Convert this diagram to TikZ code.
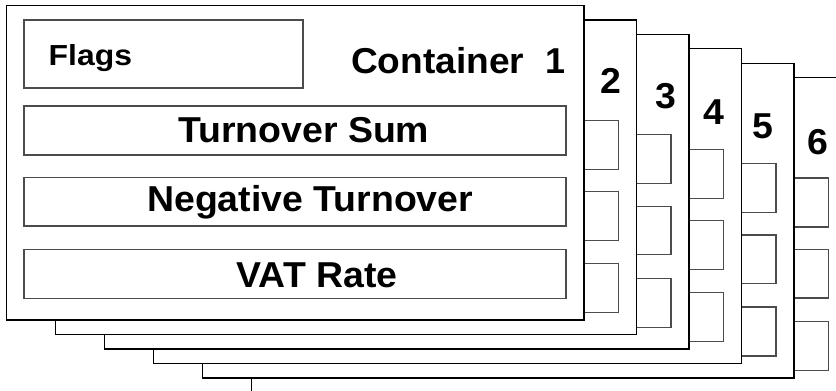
\documentclass[tikz,border=0pt]{standalone}
\usepackage{graphicx}
\usepackage{fontspec}
\setmainfont{Liberation Sans}
\newcommand{\widetext}[2]{\scalebox{#1}[1]{#2}}
\begin{document}
\begin{tikzpicture}[x=1pt,y=-1pt,
  cardline/.style={draw=black,line width=1.2pt,fill=white},
  fieldbox/.style={draw=black!70,line width=1.2pt,fill=white},
  bigtext/.style={inner sep=0pt,font=\fontsize{36}{40}\selectfont\bfseries},
  smalltext/.style={inner sep=0pt,font=\fontsize{29}{33}\selectfont\bfseries}]
\useasboundingbox (0,0) rectangle (836,391);
\clip (0,0) rectangle (836,391);
% stacked containers, back to front
\foreach \k in {6,5,4,3,2,1}{
  \pgfmathsetmacro{\L}{6.5+49*(\k-1)}
  \pgfmathsetmacro{\R}{584+52.5*(\k-1)}
  \pgfmathsetmacro{\T}{5.5+14.4*(\k-1)}
  \pgfmathsetmacro{\B}{320+14.5*(\k-1)}
  \pgfmathsetmacro{\dx}{52.5*(\k-1)}
  \pgfmathsetmacro{\dy}{14.4*(\k-1)}
  \path[cardline] (\L,\T) rectangle (\R,\B);
  \begin{scope}[shift={(\dx,\dy)}]
    \path[fieldbox] (24,20) rectangle (303,88);
    \path[fieldbox] (24,106) rectangle (566,155);
    \path[fieldbox] (24,177.3) rectangle (566,226);
    \path[fieldbox] (24,249.3) rectangle (566,298.3);
  \end{scope}
}
% labels of the front container
\node[smalltext,anchor=base west] (flags) at (48.5,65) {\widetext{1.1}{Flags}};
\node[bigtext,anchor=base west] (cont) at (351,73.3) {\widetext{1.03}{Container}\hspace{21pt}1};
\node[bigtext,anchor=base west] (sum) at (178,142.3) {\widetext{1.04}{Turnover Sum}};
\node[bigtext,anchor=base west] (neg) at (147,211.7) {\widetext{1.04}{Negative Turnover}};
\node[bigtext,anchor=base west] (vat) at (236.5,287.3) {\widetext{1.04}{VAT Rate}};
% numbers of the containers behind
\node[bigtext] (n2) at (610.7,81) {\widetext{1.04}{2}};
\node[bigtext] (n3) at (666,96.3) {\widetext{1.04}{3}};
\node[bigtext] (n4) at (713.7,112) {\widetext{1.04}{4}};
\node[bigtext] (n5) at (763.3,126.3) {\widetext{1.04}{5}};
\node[bigtext] (n6) at (817.5,142) {\widetext{1.04}{6}};
\end{tikzpicture}
\end{document}
